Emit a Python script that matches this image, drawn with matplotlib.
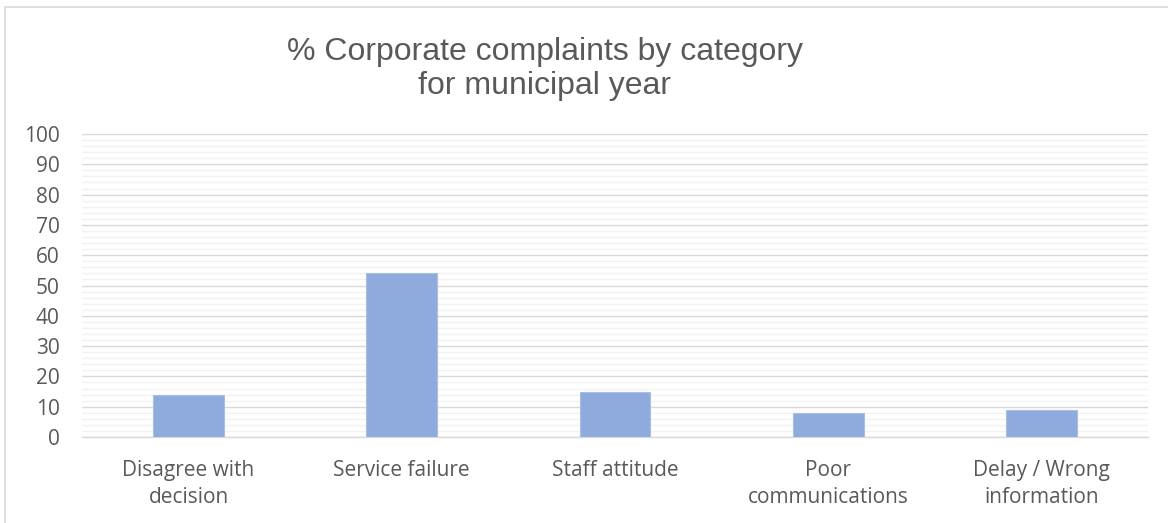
import matplotlib
matplotlib.use("Agg")
import matplotlib.pyplot as plt
from matplotlib.patches import Rectangle
import numpy as np

categories = ["Disagree with\ndecision", "Service failure", "Staff attitude",
              "Poor\ncommunications", "Delay / Wrong\ninformation"]
values = [14, 54, 15, 8, 9]
yticks = list(range(0, 101, 10))
title = "% Corporate complaints by category\nfor municipal year"

W, H = 1168, 523
fig = plt.figure(figsize=(W / 100, H / 100), dpi=100)
ax = fig.add_axes([82 / W, (H - 437) / H, 1066 / W, (437 - 134) / H])

x = np.arange(len(categories))
ax.bar(x, values, width=0.333, color="#8faadc", edgecolor="#a8bee6", linewidth=0.8, zorder=3)

ax.set_xlim(-0.5, len(categories) - 0.5)
ax.set_ylim(0, 100)
ax.set_yticks(yticks)
ax.set_yticks(np.arange(0, 101, 2), minor=True)
ax.grid(axis="y", which="major", color="#d9d9d9", linewidth=1.0, zorder=1)
ax.grid(axis="y", which="minor", color="#f2f2f2", linewidth=1.0, zorder=0)
ax.set_xticks(x)
ax.set_xticklabels(categories, fontfamily="Open Sans", fontsize=15, color="#595959", linespacing=1.38)
for lab in ax.get_yticklabels():
    lab.set_fontfamily("Open Sans")
    lab.set_fontsize(15)
    lab.set_color("#595959")
ax.tick_params(axis="both", which="both", length=0)
ax.tick_params(axis="y", pad=16)
ax.tick_params(axis="x", pad=16.5)
for s in ["top", "right", "left"]:
    ax.spines[s].set_visible(False)
ax.spines["bottom"].set_color("#d9d9d9")
ax.spines["bottom"].set_linewidth(1.0)

fig.text(545 / W, 1 - 69 / H, title, ha="center", va="center", fontfamily="Liberation Sans",
         fontsize=23, color="#595959", linespacing=1.18)

fig.patches.append(Rectangle((5 / W, -0.1), 1.2, 1 - 7 / H + 0.1, transform=fig.transFigure,
                             fill=False, edgecolor="#d9d9d9", linewidth=1.2, clip_on=False))

fig.savefig("out.png", dpi=100, facecolor="white")
